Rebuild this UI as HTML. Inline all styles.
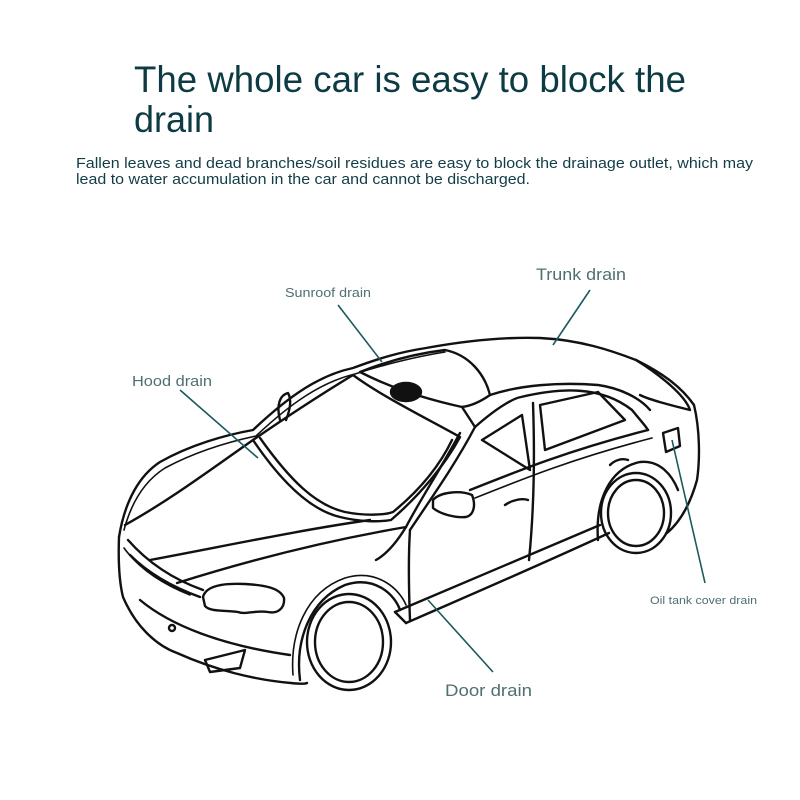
<!DOCTYPE html>
<html><head><meta charset="utf-8"><style>
html,body{margin:0;padding:0;background:#fff;}
svg{display:block}
</style></head><body>
<svg width="800" height="800" viewBox="0 0 800 800" xmlns="http://www.w3.org/2000/svg">
<rect width="800" height="800" fill="#fff"/>
<g font-family="Liberation Sans, Arial, sans-serif">
<text x="134" y="92" font-size="37" fill="#0d3b44" textLength="552" lengthAdjust="spacingAndGlyphs">The whole car is easy to block the</text>
<text x="134" y="132" font-size="37" fill="#0d3b44" textLength="80" lengthAdjust="spacingAndGlyphs">drain</text>
<text x="76" y="168" font-size="14.5" fill="#123d46" textLength="677" lengthAdjust="spacingAndGlyphs">Fallen leaves and dead branches/soil residues are easy to block the drainage outlet, which may</text>
<text x="76" y="184" font-size="14.5" fill="#123d46" textLength="454" lengthAdjust="spacingAndGlyphs">lead to water accumulation in the car and cannot be discharged.</text>
<text x="285" y="297" font-size="13" fill="#4f6f72" textLength="86" lengthAdjust="spacingAndGlyphs">Sunroof drain</text>
<text x="536" y="280" font-size="17" fill="#4f6f72" textLength="90" lengthAdjust="spacingAndGlyphs">Trunk drain</text>
<text x="132" y="386" font-size="15" fill="#4f6f72" textLength="80" lengthAdjust="spacingAndGlyphs">Hood drain</text>
<text x="650" y="604" font-size="11" fill="#4f6f72" textLength="107" lengthAdjust="spacingAndGlyphs">Oil tank cover drain</text>
<text x="445" y="696" font-size="17" fill="#4f6f72" textLength="87" lengthAdjust="spacingAndGlyphs">Door drain</text>
</g>
<g fill="none" stroke="#111" stroke-width="2.4" stroke-linejoin="round" stroke-linecap="round">
<path d="M119 537 C125 500 140 475 160 462 C190 445 225 435 253 430 C290 395 320 375 353 368 C380 358 400 352 426 348 C470 340 510 337 540 338 C580 340 610 350 636 360 C660 372 680 385 694 405 C700 430 700 460 697 480 C690 505 680 522 667 533"/>
<path d="M124 530 C132 500 146 480 165 468 C195 452 228 442 256 436 C292 402 322 382 355 374 C385 364 420 356 445 352" stroke-width="1.6"/>
<path d="M125 525 C170 500 210 470 253 440"/>
<path d="M253 440 C280 480 310 510 340 517 C360 522 380 522 391 520 C420 495 445 465 460 437 C420 415 380 395 353 375 C320 395 285 418 253 440 Z"/>
<path d="M260 438 C290 480 315 505 345 512 C365 516 385 515 393 512 C420 490 440 465 452 440"/>
<path d="M360 372 C390 360 420 353 445 350 C470 355 485 375 490 395 C480 402 470 406 462 407 C430 400 395 390 360 372 Z"/>
<ellipse cx="406" cy="392" rx="15" ry="9" fill="#111"/>
<path d="M462 407 L475 427 M490 395 C520 385 560 382 598 385 C620 388 640 398 650 410"/>
<path d="M177 583 C250 560 330 540 406 527"/>
<path d="M150 560 C230 545 300 530 370 520"/>
<path d="M460 433 C440 470 420 500 406 527 C395 545 385 555 376 560"/>
<path d="M475 427 C455 465 430 500 410 530"/>
<path d="M475 427 C500 405 515 398 521 397 C560 388 600 385 632 410 C640 420 645 425 648 430"/>
<path d="M470 490 C520 470 570 450 648 430"/>
<path d="M475 498 C525 478 575 458 652 438" stroke-width="1.6"/>
<path d="M482 440 L522 415 L530 470 Z"/>
<path d="M540 405 L598 392 L625 420 L545 450 Z"/>
<path d="M533 403 C535 460 534 510 529 560"/>
<path d="M410 530 C408 560 409 595 410 620"/>
<path d="M433 500 C440 492 460 490 472 495 C476 505 474 515 466 517 C455 518 440 514 433 508 Z"/>
<path d="M406 623 C470 595 540 565 609 533"/>
<path d="M395 612 C460 585 530 555 600 525"/>
<path d="M406 623 L395 612"/>
<path d="M119 537 C118 565 120 585 123 597 C135 625 155 645 177 653 C215 670 255 680 291 683 C300 684 305 684 307 683"/>
<path d="M128 540 C150 565 175 580 203 590"/>
<path d="M130 555 C150 575 175 588 200 597"/>
<path d="M124 548 C140 570 165 585 190 595" stroke-width="1.6"/>
<path d="M140 600 C170 625 220 645 290 655"/>
<path d="M203 597 C206 585 225 583 245 584 C265 585 280 588 284 598 C285 608 278 614 268 612 C255 610 245 615 238 612 C225 610 210 612 205 606 Z"/>
<path d="M205 660 L245 650 L240 668 L210 672 Z"/>
<circle cx="172" cy="628" r="3"/>
<ellipse cx="349" cy="642" rx="42" ry="48"/>
<ellipse cx="349" cy="642" rx="34" ry="40"/>
<path d="M300 680 C295 640 310 600 345 585 C375 575 395 595 400 610"/>
<path d="M293 675 C290 635 305 592 345 578 C378 568 400 590 406 605" stroke-width="1.6"/>
<ellipse cx="636" cy="513" rx="35" ry="40"/>
<ellipse cx="636" cy="513" rx="28" ry="33"/>
<path d="M598 540 C595 500 610 468 640 462 C660 460 672 475 678 490"/>
<path d="M636 360 C660 375 685 395 690 410 C670 405 650 400 640 395"/>
<path d="M663 433 L678 428 L680 446 L666 452 Z"/>
<path d="M280 420 C276 405 280 395 288 393 C292 400 290 410 286 420"/>
<path d="M505 505 C512 500 522 498 528 500"/>
<path d="M610 465 C615 460 622 458 628 460"/>
</g>
<g stroke="#1b5a5e" stroke-width="1.6" fill="none">
<line x1="338" y1="305" x2="382" y2="362"/>
<line x1="590" y1="290" x2="553" y2="345"/>
<line x1="180" y1="390" x2="258" y2="458"/>
<line x1="705" y1="583" x2="672" y2="440"/>
<line x1="493" y1="672" x2="428" y2="600"/>
</g>
</svg>
</body></html>
